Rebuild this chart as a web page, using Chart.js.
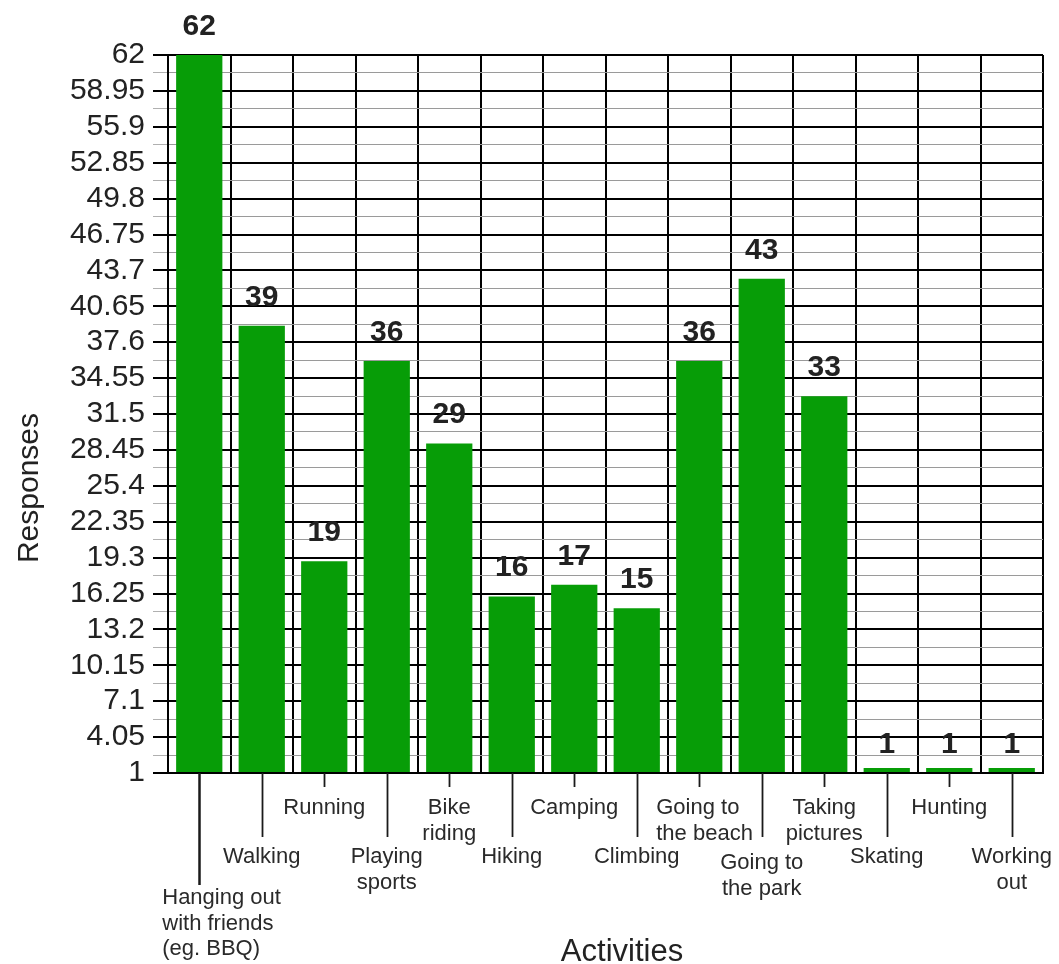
<!DOCTYPE html>
<html>
<head>
<meta charset="utf-8">
<script src="https://cdn.jsdelivr.net/npm/chart.js@4/dist/chart.umd.min.js"></script>
<style>
  html, body { margin: 0; padding: 0; background: #ffffff; }
  #wrap { width: 1059px; height: 964px; position: relative; }
</style>
</head>
<body>
<div id="wrap"><canvas id="c"></canvas></div>
<script>
// ---- data ----
const categories = [
  ["Hanging out", "with friends", "(eg. BBQ)"],
  ["Walking"],
  ["Running"],
  ["Playing", "sports"],
  ["Bike", "riding"],
  ["Hiking"],
  ["Camping"],
  ["Climbing"],
  ["Going to", "the beach"],
  ["Going to", "the park"],
  ["Taking", "pictures"],
  ["Skating"],
  ["Hunting"],
  ["Working", "out"]
];
const responses = [62, 39, 19, 36, 29, 16, 17, 15, 36, 43, 33, 1, 1, 1];
const yTickLabels = ["1", "4.05", "7.1", "10.15", "13.2", "16.25", "19.3", "22.35", "25.4",
  "28.45", "31.5", "34.55", "37.6", "40.65", "43.7", "46.75", "49.8", "52.85", "55.9", "58.95", "62"];
const labelLevels = [3, 2, 1, 2, 1, 2, 1, 2, 1, 2, 1, 2, 1, 2];
const xTitle = "Activities";
const yTitle = "Responses";

// ---- layout / style ----
const FONT = '"Liberation Sans", Arial, Helvetica, sans-serif';
const TEXT = '#222222';
const GREEN = '#079d07';

const majorVals = yTickLabels.map(Number);
const yTicks = [];
majorVals.forEach((v, i) => {
  yTicks.push({ value: v, major: true, txt: yTickLabels[i] });
  if (i < majorVals.length - 1) {
    yTicks.push({ value: (v + majorVals[i + 1]) / 2, major: false, txt: '' });
  }
});

const levelStyle = {
  1: { lineEnd: 787, textY: 808 },
  2: { lineEnd: 837, textY: 857 },
  3: { lineEnd: 885, textY: 898 }
};
const leftAlignShift = { 0: -37, 8: -43 };
const extraDown = { 9: 6 };

const decorPlugin = {
  id: 'decor',
  afterDatasetsDraw(chart) {
    const ctx = chart.ctx;
    const xs = chart.scales.x;
    const area = chart.chartArea;
    const meta = chart.getDatasetMeta(0);
    ctx.save();
    // value labels above bars
    ctx.fillStyle = TEXT;
    ctx.font = 'bold 30px ' + FONT;
    ctx.textAlign = 'center';
    ctx.textBaseline = 'alphabetic';
    meta.data.forEach((bar, i) => {
      const top = responses[i] <= majorVals[0] ? area.bottom : bar.y;
      ctx.fillText(String(responses[i]), bar.x, top - 20);
    });
    // leader lines and category labels
    ctx.strokeStyle = '#1a1a1a';
    ctx.font = '22px ' + FONT;
    ctx.fillStyle = '#2a2a2a';
    categories.forEach((lines, i) => {
      const cx = xs.getPixelForValue(i);
      const st = levelStyle[labelLevels[i]];
      const dy = extraDown[i] || 0;
      ctx.lineWidth = labelLevels[i] === 3 ? 2.5 : 1.8;
      ctx.beginPath();
      ctx.moveTo(Math.round(cx) + 0.5, area.bottom);
      ctx.lineTo(Math.round(cx) + 0.5, st.lineEnd);
      ctx.stroke();
      ctx.textBaseline = 'middle';
      if (leftAlignShift[i] !== undefined) {
        ctx.textAlign = 'left';
        lines.forEach((ln, k) => ctx.fillText(ln, cx + leftAlignShift[i], st.textY + dy + k * 25.5));
      } else {
        ctx.textAlign = 'center';
        lines.forEach((ln, k) => ctx.fillText(ln, cx, st.textY + dy + k * 25.5));
      }
    });
    // axis titles
    ctx.fillStyle = TEXT;
    ctx.font = '31px ' + FONT;
    ctx.textAlign = 'center';
    ctx.textBaseline = 'alphabetic';
    ctx.fillText(xTitle, 622, 961);
    ctx.save();
    ctx.translate(38, 488);
    ctx.rotate(-Math.PI / 2);
    ctx.font = '30px ' + FONT;
    ctx.fillText(yTitle, 0, 0);
    ctx.restore();
    ctx.restore();
  }
};

new Chart(document.getElementById('c'), {
  type: 'bar',
  data: {
    labels: categories,
    datasets: [{
      label: yTitle,
      data: responses,
      backgroundColor: GREEN,
      borderWidth: 0,
      barPercentage: 0.74,
      categoryPercentage: 1.0,
      base: 1,
      minBarLength: 5
    }]
  },
  options: {
    responsive: true,
    maintainAspectRatio: false,
    animation: false,
    devicePixelRatio: 1,
    layout: { padding: { top: 55, right: 16, left: 0, bottom: 0 } },
    plugins: {
      legend: { display: false },
      tooltip: { enabled: false },
      title: { display: false }
    },
    scales: {
      x: {
        offset: true,
        grid: { color: '#000000', lineWidth: 2, drawTicks: false, offset: true },
        border: { color: '#000000', width: 2 },
        ticks: { display: false },
        afterFit: (scale) => { scale.height = 191; }
      },
      y: {
        min: 1,
        max: 62,
        afterBuildTicks: (scale) => {
          scale.ticks = yTicks.map(t => ({ value: t.value, major: t.major, txt: t.txt }));
        },
        afterFit: (scale) => { scale.width = 168; },
        grid: {
          color: (c) => (c.tick && c.tick.major) ? '#000000' : '#9a9a9a',
          lineWidth: (c) => (c.tick && c.tick.major) ? 2 : 1,
          tickColor: (c) => (c.tick && c.tick.major) ? '#000000' : '#b0b0b0',
          tickWidth: (c) => (c.tick && c.tick.major) ? 2 : 1,
          tickLength: 15,
          drawTicks: true
        },
        border: { color: '#000000', width: 2 },
        ticks: {
          autoSkip: false,
          padding: 8,
          color: TEXT,
          font: { family: FONT, size: 30 },
          callback: (v, i, ticks) => ticks[i].txt || ''
        }
      }
    }
  },
  plugins: [decorPlugin]
});
</script>
</body>
</html>
